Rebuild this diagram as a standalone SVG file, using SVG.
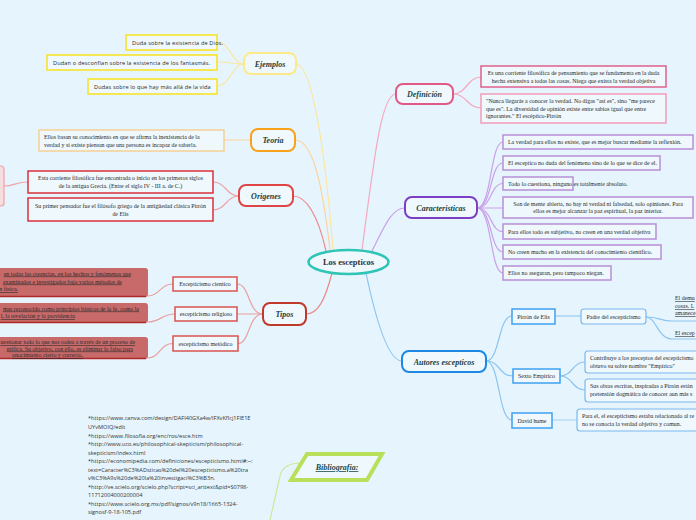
<svg xmlns="http://www.w3.org/2000/svg" width="696" height="520" viewBox="0 0 696 520">
<style>
.bg{fill:#e6f5fd}
.box{fill:#eef8fd}
.t{font-family:"Liberation Serif",serif;font-size:5.9px;fill:#2a2a2a}
.s{font-family:"Open Sans",sans-serif;font-size:5.6px;letter-spacing:0.15px;fill:#2a2a2a}
.b{font-family:"Open Sans",sans-serif;font-size:5.6px;fill:#333}
.h{font-family:"Liberation Serif",serif;font-size:8px;font-weight:bold;font-style:italic;fill:#1d3f42}
.u{text-decoration:underline}
.c{fill:none;stroke-width:1.2;stroke-linecap:round}
.m{text-anchor:middle}
.e{text-anchor:end}
</style>
<rect class="bg" x="0" y="0" width="696" height="520"/>
<g id="connectors">
<path class="c" stroke="#fbe6a0" d="M333,250 C325,150 312,64 296,64"/>
<path class="c" stroke="#fcd49e" d="M330,250 C322,180 312,140 295,140"/>
<path class="c" stroke="#ef8a8a" d="M326,251 C318,215 306,196 293,196"/>
<path class="c" stroke="#f5a8c0" d="M362,250 C375,150 382,94 396,94"/>
<path class="c" stroke="#c9a0e8" d="M372,251 C385,225 392,208 405,208"/>
<path class="c" stroke="#e88a8a" d="M332,273 C325,300 318,314 306,314"/>
<path class="c" stroke="#8cc4f0" d="M366,273 C378,330 390,361 402,361"/>
<path class="c" stroke="#cde89a" d="M302,463 C290,463 282,466 280,476 L270,520"/>
<path class="c" stroke="#fbe6a0" d="M244,64 C232,64 230,42 217,42"/>
<path class="c" stroke="#fbe6a0" d="M244,64 C232,64 230,62 217,62"/>
<path class="c" stroke="#fbe6a0" d="M244,64 C232,64 230,86 217,86"/>
<path class="c" stroke="#fcd49e" d="M251,140 L224,140"/>
<path class="c" stroke="#f0a0a8" d="M239,196 C226,196 226,182 213,182"/>
<path class="c" stroke="#f0a0a8" d="M239,196 C226,196 226,210 213,210"/>
<path class="c" stroke="#f0a0a8" d="M28,182 C16,182 14,186 4,186"/>
<path class="c" stroke="#f5a8c0" d="M453,94 C467,94 467,77 481,77"/>
<path class="c" stroke="#f5a8c0" d="M453,94 C467,94 467,108 481,108"/>
<path class="c" stroke="#c9a0e8" d="M477,208 C492,208 490,142 503,142"/>
<path class="c" stroke="#c9a0e8" d="M477,208 C492,208 490,163 503,163"/>
<path class="c" stroke="#c9a0e8" d="M477,208 C492,208 490,183.5 503,183.5"/>
<path class="c" stroke="#c9a0e8" d="M477,208 L503,208"/>
<path class="c" stroke="#c9a0e8" d="M477,208 C492,208 490,231.5 503,231.5"/>
<path class="c" stroke="#c9a0e8" d="M477,208 C492,208 490,252 503,252"/>
<path class="c" stroke="#c9a0e8" d="M477,208 C492,208 490,273 503,273"/>
<path class="c" stroke="#e8a0a0" d="M263,314 C248,314 250,284 237,284"/>
<path class="c" stroke="#e8a0a0" d="M263,314 L237,314"/>
<path class="c" stroke="#e8a0a0" d="M263,314 C248,314 250,343.5 238,343.5"/>
<path class="c" stroke="#e8a0a0" d="M173,284 C160,284 160,296 148,296"/>
<path class="c" stroke="#e8a0a0" d="M175,314 C162,314 160,322 148,322"/>
<path class="c" stroke="#e8a0a0" d="M173,343.5 C160,343.5 160,358 148,358"/>
<path class="c" stroke="#8cc4f0" d="M486,361 C500,361 498,316 512,316"/>
<path class="c" stroke="#8cc4f0" d="M486,361 C500,361 499,376 513,376"/>
<path class="c" stroke="#8cc4f0" d="M486,361 C500,361 498,420 512,420"/>
<path class="c" stroke="#8cc4f0" stroke-width="1.6" d="M555,316 L581,316"/>
<path class="c" stroke="#8cc4f0" d="M560,376 C573,376 572,362 585,362"/>
<path class="c" stroke="#8cc4f0" d="M560,376 C573,376 572,390 585,390"/>
<path class="c" stroke="#a6d2f4" stroke-width="2" d="M552,420 L577,420"/>
<path class="c" stroke="#8cc4f0" d="M646,317 C660,317 660,321 672,321 L696,321"/>
<path class="c" stroke="#8cc4f0" d="M646,317 C656,317 658,339 672,339 L696,339"/>
</g>
<g id="center">
<ellipse cx="348.5" cy="262" rx="40" ry="12" fill="#eef8fd" stroke="#2ec4b6" stroke-width="2.5"/>
<text x="348.5" y="265" class="m" style="font-family:'Liberation Serif',serif;font-size:8.5px;font-weight:bold;fill:#333">Los escepticos</text>
</g>
<g id="ejemplos">
<rect x="244" y="53" width="52" height="21" rx="7" class="box" stroke="#fde98a" stroke-width="2"/>
<text x="270" y="66.5" class="h m">Ejemplos</text>
</g>
<g id="ej1"><rect x="126" y="35" width="91" height="15" class="box" stroke="#f7e21c" stroke-width="1.5"/><text x="132" y="44.5" class="s">Duda sobre la existencia de Dios.</text></g>
<g id="ej2"><rect x="47" y="55" width="170" height="15" class="box" stroke="#f7e21c" stroke-width="1.5"/><text x="53" y="64.5" class="s">Dudan o desconfían sobre la existencia de los fantasmás.</text></g>
<g id="ej3"><rect x="88" y="79" width="129" height="15" class="box" stroke="#f7e21c" stroke-width="1.5"/><text x="94" y="88.5" class="s">Dudas sobre lo que hay más allá de la vida</text></g>
<g id="definicion">
<rect x="396" y="84" width="57" height="20" rx="7" class="box" stroke="#e05a85" stroke-width="2"/>
<text x="424.5" y="97" class="h m" style="fill:#1d4b4b">Definición</text>
</g>
<g id="def1"><rect x="481" y="66" width="185" height="21" class="box" stroke="#e0608a" stroke-width="1.5"/>
<text x="573.5" y="75" class="t m">Es una corriente filosófica de pensamiento que se fundamenta en la duda</text>
<text x="573.5" y="83" class="t m">hecha extensiva a todas las cosas. Niega que exista la verdad objetiva</text></g>
<g id="def2"><rect x="481" y="94" width="185" height="29" class="box" stroke="#f29cb8" stroke-width="1.5"/>
<text x="486" y="103" class="t">"Nunca llegarás a conocer la verdad. No digas "así es", sino "me parece</text>
<text x="486" y="110.5" class="t">que es". La diversidad de opinión existe entre sabios igual que entre</text>
<text x="486" y="118" class="t">ignorantes." El escéptico-Pirrón</text></g>
<g id="teoria">
<rect x="251" y="129" width="44" height="22" rx="7" class="box" stroke="#f7a21b" stroke-width="2"/>
<text x="273" y="143" class="h m">Teoria</text>
</g>
<g id="teo1"><rect x="39" y="130" width="185" height="21" class="box" stroke="#f9c77a" stroke-width="1.2"/>
<text x="44" y="138.5" class="t">Ellos basan su conocimiento en que se afirma la inexistencia de la</text>
<text x="44" y="146.5" class="t">verdad y si existe piensan que una persona es incapaz de saberla.</text></g>
<g id="origenes">
<rect x="239" y="185" width="54" height="21" rx="7" class="box" stroke="#e04545" stroke-width="2"/>
<text x="266" y="198.5" class="h m">Origenes</text>
</g>
<g id="or1"><rect x="28" y="171" width="185" height="22" class="box" stroke="#d9303a" stroke-width="1.5"/>
<text x="120.5" y="180" class="t m">Esta corriente filosófica fue encontrada o inicio en los primeros siglos</text>
<text x="120.5" y="188" class="t m">de la antigua Grecia. (Entre el siglo IV - III a. de C.)</text></g>
<g id="or2"><rect x="28" y="198" width="185" height="23" class="box" stroke="#d9303a" stroke-width="1.5"/>
<text x="120.5" y="207.5" class="t m">Su primer pensador fue el filósofo griego de la antigüedad clásica Pirrón</text>
<text x="120.5" y="215.5" class="t m">de Elis</text></g>
<g id="or-off"><rect x="-20" y="166" width="24" height="40" rx="3" fill="#f6dede" stroke="#f0a0a8" stroke-width="1.2"/></g>
<g id="caracteristicas">
<rect x="405" y="197" width="72" height="21" rx="7" class="box" stroke="#7b3fc4" stroke-width="2"/>
<text x="441" y="210.5" class="h m">Caracteristicas</text>
</g>
<g id="c1"><rect x="503" y="135" width="190" height="14" class="box" stroke="#b88fd6" stroke-width="1.5"/><text x="508" y="144" class="t">La verdad para ellos no existe, que es mejor buscar mediante la reflexión.</text></g>
<g id="c2"><rect x="503" y="156" width="157" height="14" class="box" stroke="#b88fd6" stroke-width="1.5"/><text x="508" y="165" class="t">El esceptico no duda del fenómeno sino de lo que se dice de el.</text></g>
<g id="c3"><rect x="503" y="177" width="70" height="13" class="box" stroke="#b88fd6" stroke-width="1.5"/><text x="508" y="185.5" class="t">Todo lo cuestiona, ninguno es totalmente absoluto.</text></g>
<g id="c4"><rect x="503" y="197" width="190" height="21" class="box" stroke="#b88fd6" stroke-width="1.5"/>
<text x="598" y="205.5" class="t m">Son de mente abierta, no hay ni verdad ni falsedad, solo opiniones. Para</text>
<text x="598" y="213" class="t m">ellos es mejor alcanzar la paz espiritual, la paz interior.</text></g>
<g id="c5"><rect x="503" y="224" width="153" height="15" class="box" stroke="#b88fd6" stroke-width="1.5"/><text x="508" y="233.5" class="t">Para ellos todo es subjetivo, no creen en una verdad objetiva</text></g>
<g id="c6"><rect x="503" y="245" width="158" height="14" class="box" stroke="#b88fd6" stroke-width="1.5"/><text x="508" y="254" class="t">No creen mucho en la existencia del conocimiento científico.</text></g>
<g id="c7"><rect x="503" y="266" width="108" height="14" class="box" stroke="#b88fd6" stroke-width="1.5"/><text x="508" y="275" class="t">Ellos no aseguran, pero tampoco niegan.</text></g>
<g id="tipos">
<rect x="263" y="303" width="43" height="22" rx="7" class="box" stroke="#c0392b" stroke-width="2"/>
<text x="284.5" y="317" class="h m">Tipos</text>
</g>
<g id="t1"><rect x="173" y="277" width="64" height="14" class="box" stroke="#d9534f" stroke-width="1.5"/><text x="205" y="286" class="t m">Escepticismo cientico</text></g>
<g id="t2"><rect x="175" y="307" width="62" height="14" class="box" stroke="#d9534f" stroke-width="1.5"/><text x="206" y="316" class="t m">escepticismo religioso</text></g>
<g id="t3"><rect x="173" y="336" width="65" height="15" class="box" stroke="#d9534f" stroke-width="1.5"/><text x="205.5" y="345.5" class="t m">escepticismo metódico</text></g>
<g id="g1"><rect x="-10" y="268" width="158" height="29" rx="3" fill="#c96a6a"/><path d="M-10,296.5 H146" stroke="#b02828" stroke-width="1.5"/>
<text x="131" y="275.5" class="t u e">en todas las creencias, en los hechos y fenómenos que</text>
<text x="122" y="283.5" class="t u e">examinados e investigados bajo varios métodos de</text>
<text x="18" y="291" class="t u e">n física.</text></g>
<g id="g2"><rect x="-10" y="303" width="158" height="20" rx="3" fill="#c96a6a"/><path d="M-10,322.5 H146" stroke="#b02828" stroke-width="1.5"/>
<text x="139" y="310.5" class="t u e">mas reconocido como principios básicos de la fe, como la</text>
<text x="75" y="318" class="t u e">l, la revelación y la providencia</text></g>
<g id="g3"><rect x="-10" y="337" width="158" height="22" rx="3" fill="#c96a6a"/><path d="M-10,358.5 H146" stroke="#b02828" stroke-width="1.5"/>
<text x="135" y="344" class="t u e">uestionar todo lo que nos rodea a través de un proceso de</text>
<text x="133" y="350.5" class="t u e">ntífica. Su objetivo, con ello, es eliminar lo falso para</text>
<text x="83" y="357" class="t u e">onocimiento cierto y correcto.</text></g>
<g id="autores">
<rect x="402" y="351" width="84" height="21" rx="7" class="box" stroke="#1e88e5" stroke-width="2"/>
<text x="444" y="364.5" class="h m">Autores escepticos</text>
</g>
<g id="a1"><rect x="512" y="309" width="43" height="15" class="box" stroke="#3fa0f0" stroke-width="1.5"/><text x="533.5" y="318.5" class="t m">Pirrón de Elis</text></g>
<g id="a2"><rect x="513" y="369" width="47" height="14" class="box" stroke="#3fa0f0" stroke-width="1.5"/><text x="536.5" y="378" class="t m">Sexto Empírico</text></g>
<g id="a3"><rect x="512" y="413" width="40" height="15" class="box" stroke="#3fa0f0" stroke-width="1.5"/><text x="532" y="422.5" class="t m">David hume</text></g>
<g id="a1a"><rect x="581" y="309" width="65" height="15" rx="3" class="box" stroke="#7ab8ee" stroke-width="1.2"/><text x="613.5" y="318.5" class="t m">Padre del escepticismo</text></g>
<g id="a1b"><text x="675" y="300" class="t u">El demu</text><text x="675" y="308" class="t u">cosas. L</text><text x="675" y="315" class="t u">amanece</text></g>
<g id="a1c"><text x="675" y="335" class="t u">El escep</text></g>
<g id="a2a"><rect x="585" y="351" width="120" height="22" rx="3" class="box" stroke="#7ab8ee" stroke-width="1.2"/>
<text x="590" y="359.5" class="t">Contribuye a los preceptos del escepticismo</text>
<text x="590" y="367.5" class="t">obtuvo su sobre nombre "Empírico"</text></g>
<g id="a2b"><rect x="585" y="379" width="120" height="23" rx="3" class="box" stroke="#7ab8ee" stroke-width="1.2"/>
<text x="590" y="388" class="t">Sus obras escritas, inspiradas a Pirrón están</text>
<text x="590" y="396" class="t">pretensión dogmática de conocer aun más s</text></g>
<g id="a3a"><rect x="577" y="409" width="130" height="22" rx="3" class="box" stroke="#7ab8ee" stroke-width="1.2"/>
<text x="582" y="417.5" class="t">Para el, el escepticismo estaba relacionado al re</text>
<text x="582" y="426" class="t">no se conocia la verdad objetiva y comun.</text></g>
<g id="bibliografia">
<polygon points="307,454 382,454 367,480 291,480" class="box" stroke="#b8e05a" stroke-width="4" stroke-linejoin="miter"/>
<text x="337" y="470" class="h m u" style="fill:#1d4b4b">Bibliografia:</text>
</g>
<g id="bib-text">
<text x="88" y="420" class="b">*https://www.canva.com/design/DAFI40GXa4w/lFXvKfIcj1FIE1E</text>
<text x="88" y="429" class="b">UYvMOIQ/edit</text>
<text x="88" y="437.5" class="b">*https://www.filosofia.org/enc/ros/esce.htm</text>
<text x="88" y="446" class="b">*http://www.uco.es/philosophical-skepticism/philosophical-</text>
<text x="88" y="454.5" class="b">skepticism/index.html</text>
<text x="88" y="463" class="b">*https://economipedia.com/definiciones/escepticismo.html#:~:</text>
<text x="88" y="471.5" class="b">text=Caracter%C3%ADsticas%20del%20escepticismo,a%20tra</text>
<text x="88" y="480" class="b">v%C3%A9s%20de%20la%20investigaci%C3%B3n.</text>
<text x="88" y="488.5" class="b">*http://ve.scielo.org/scielo.php?script=sci_arttext&amp;pid=S0798-</text>
<text x="88" y="497" class="b">11712004000200004</text>
<text x="88" y="505.5" class="b">*https://www.scielo.org.mx/pdf/signos/v9n18/1665-1324-</text>
<text x="88" y="514" class="b">signosf-9-18-105.pdf</text>
</g>
</svg>
